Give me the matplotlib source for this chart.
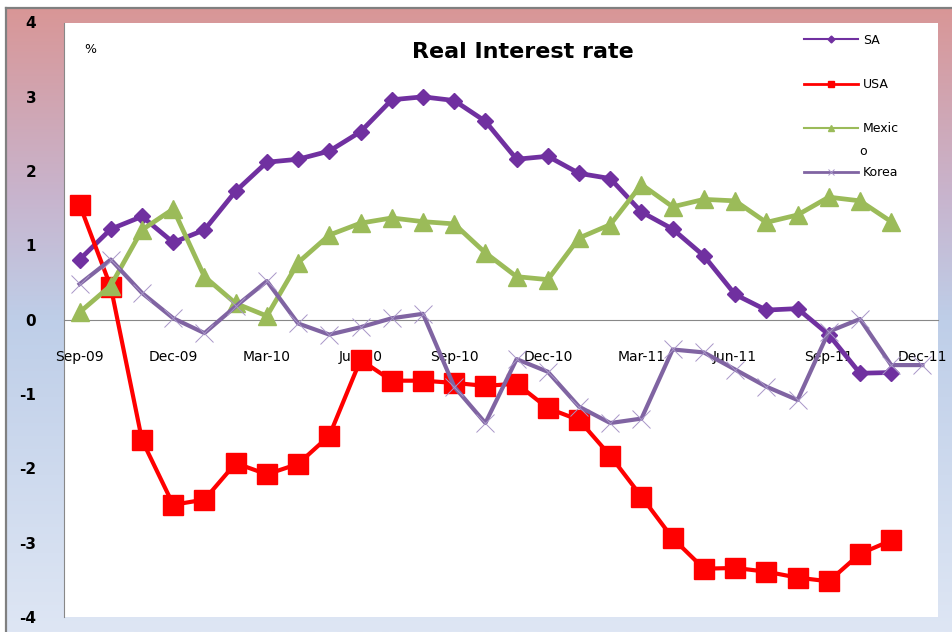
import numpy as np
import matplotlib
matplotlib.use('Agg')
import matplotlib.pyplot as plt
from matplotlib.lines import Line2D

# ---------------------------------------------------------------- data
months = ['Sep-09', 'Oct-09', 'Nov-09', 'Dec-09', 'Jan-10', 'Feb-10', 'Mar-10',
          'Apr-10', 'May-10', 'Jun-10', 'Jul-10', 'Aug-10', 'Sep-10', 'Oct-10',
          'Nov-10', 'Dec-10', 'Jan-11', 'Feb-11', 'Mar-11', 'Apr-11', 'May-11',
          'Jun-11', 'Jul-11', 'Aug-11', 'Sep-11', 'Oct-11', 'Nov-11', 'Dec-11']

sa = [0.81, 1.22, 1.39, 1.04, 1.21, 1.73, 2.12, 2.16, 2.27, 2.53, 2.96, 3.00,
      2.95, 2.67, 2.16, 2.20, 1.97, 1.90, 1.45, 1.22, 0.86, 0.34, 0.13, 0.15,
      -0.20, -0.72, -0.71]
usa = [1.55, 0.44, -1.62, -2.49, -2.42, -1.93, -2.08, -1.94, -1.56, -0.54,
       -0.82, -0.82, -0.85, -0.89, -0.86, -1.19, -1.35, -1.83, -2.38, -2.94,
       -3.35, -3.34, -3.39, -3.47, -3.52, -3.15, -2.97]
mexico = [0.10, 0.46, 1.21, 1.49, 0.58, 0.22, 0.05, 0.77, 1.14, 1.30, 1.37,
          1.32, 1.29, 0.90, 0.58, 0.54, 1.10, 1.28, 1.82, 1.52, 1.62, 1.60,
          1.31, 1.41, 1.65, 1.60, 1.32]
korea = [0.48, 0.81, 0.36, 0.02, -0.18, 0.18, 0.52, -0.05, -0.20, -0.10, 0.02,
         0.08, -0.90, -1.39, -0.53, -0.70, -1.17, -1.39, -1.33, -0.40, -0.44,
         -0.67, -0.90, -1.08, -0.16, 0.01, -0.61, -0.61]

series_names = ['SA', 'USA', 'Mexic', 'Korea']
tick_labels = months[::3]
y_ticks = [-4, -3, -2, -1, 0, 1, 2, 3, 4]

# ---------------------------------------------------------------- figure
W, H = 952, 632
fig = plt.figure(figsize=(W / 100, H / 100), dpi=100)
fig.patch.set_facecolor('white')

# gradient background (pink at top -> light blue at bottom)
bg = fig.add_axes([5 / W, 0, (W - 5) / W, (H - 7) / H])
stops = np.array([[217, 150, 150], [200, 180, 205], [190, 206, 232], [222, 230, 244]]) / 255.0
pos = [0.0, 0.3, 0.5, 1.0]
t = np.linspace(0, 1, 300)
grad = np.stack([np.interp(t, pos, stops[:, c]) for c in range(3)], axis=-1)
bg.imshow(grad[:, None, :], aspect='auto', extent=[0, 1, 0, 1])
bg.set_xlim(0, 1)
bg.set_ylim(0, 1)
bg.set_axis_off()
# grey frame on top and left
fig.add_artist(Line2D([5.5 / W, 5.5 / W], [0, (H - 7.5) / H], color='#808080', lw=1.6))
fig.add_artist(Line2D([5.5 / W, 1], [(H - 7.5) / H, (H - 7.5) / H], color='#808080', lw=1.6))

ax = fig.add_axes([64 / W, 15 / H, (938 - 64) / W, (617 - 22.5) / H])
ax.set_facecolor('white')

x = np.arange(len(months))
ax.plot(x[:len(sa)], sa, color='#7030A0', lw=3.4, marker='D', ms=8.5, mec='#7030A0', zorder=3)
ax.plot(x[:len(usa)], usa, color='#FF0000', lw=3, marker='s', ms=14, mec='#FF0000', zorder=4)
ax.plot(x[:len(mexico)], mexico, color='#9BBB59', lw=3.4, marker='^', ms=13, mec='#9BBB59', zorder=5)
ax.plot(x[:len(korea)], korea, color='#8064A2', lw=3, zorder=6)
ax.plot(x[:len(korea)], korea, ls='none', marker='x', ms=13, mew=0.7, color='#A896C8', zorder=6)

ax.set_xlim(-0.5, len(months) - 0.5)
ax.set_ylim(-4, 4)
ax.set_yticks(y_ticks)
ax.set_yticklabels([str(v) for v in y_ticks], fontsize=11, fontweight='bold')
ax.set_xticks(x[::3])
ax.set_xticklabels(tick_labels, fontsize=10.5, fontweight='bold')
ax.tick_params(axis='x', length=0, pad=22)
ax.tick_params(axis='y', length=0, pad=20)

for s in ['top', 'right']:
    ax.spines[s].set_visible(False)
ax.spines['bottom'].set_position(('data', 0))
ax.spines['bottom'].set_color('#888888')
ax.spines['left'].set_color('#888888')
ax.spines['bottom'].set_zorder(1)

ax.text(0.525, 0.951, 'Real Interest rate', transform=ax.transAxes, ha='center', va='center',
        fontsize=16, fontweight='bold')
ax.text(0.03, 0.955, '%', transform=ax.transAxes, ha='center', va='center', fontsize=9)

# legend
handles = [
    Line2D([], [], color='#7030A0', lw=1.5, marker='D', ms=3.5),
    Line2D([], [], color='#FF0000', lw=2, marker='s', ms=5),
    Line2D([], [], color='#9BBB59', lw=1.5, marker='^', ms=5),
    Line2D([], [], color='#8064A2', lw=2, marker='x', ms=5, mec='#A896C8', mew=0.7),
]
leg = ax.legend(handles, series_names, loc='upper left', bbox_to_anchor=(0.834, 1.0),
                frameon=False, handlelength=4.3, handletextpad=0.4, labelspacing=2.5,
                borderaxespad=0.5, prop={'size': 9})
ax.text(859 / W, (H - 152) / H, 'o', transform=fig.transFigure, ha='left', va='center',
        fontsize=9)

fig.savefig('out.png', dpi=100)
